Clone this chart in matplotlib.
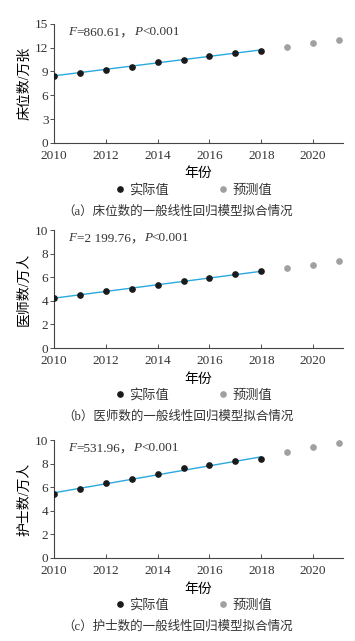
import matplotlib
matplotlib.use("Agg")
import matplotlib.pyplot as plt
import numpy as np

plt.rcParams['font.family'] = ['Liberation Serif', 'Noto Sans CJK SC']
plt.rcParams['text.color'] = '#333333'
plt.rcParams['axes.edgecolor'] = '#444444'

# Data
years_actual = np.arange(2010, 2019)
years_pred = np.array([2019, 2020, 2021])

beds_actual = [8.47, 8.81, 9.23, 9.61, 10.24, 10.41, 10.96, 11.34, 11.63]
beds_pred = [12.09, 12.52, 12.94]

doctors_actual = [4.28, 4.51, 4.82, 5.01, 5.32, 5.66, 5.97, 6.25, 6.51]
doctors_pred = [6.76, 7.07, 7.35]

nurses_actual = [5.41, 5.84, 6.37, 6.66, 7.14, 7.62, 7.85, 8.19, 8.39]
nurses_pred = [8.95, 9.38, 9.72]

panels = [
    dict(actual=beds_actual, pred=beds_pred, ylabel="床位数/万张", ylim=15, yticks=[0, 3, 6, 9, 12, 15],
         F="860.61", caption="（a）床位数的一般线性回归模型拟合情况",
         rect=[0.152, 0.777, 0.814, 0.186]),
    dict(actual=doctors_actual, pred=doctors_pred, ylabel="医师数/万人", ylim=10, yticks=[0, 2, 4, 6, 8, 10],
         F="2 199.76", caption="（b）医师数的一般线性回归模型拟合情况",
         rect=[0.152, 0.457, 0.814, 0.184]),
    dict(actual=nurses_actual, pred=nurses_pred, ylabel="护士数/万人", ylim=10, yticks=[0, 2, 4, 6, 8, 10],
         F="531.96", caption="（c）护士数的一般线性回归模型拟合情况",
         rect=[0.152, 0.1295, 0.814, 0.184]),
]

fig = plt.figure(figsize=(3.55, 6.41), dpi=100)
fs = 9.5

for p in panels:
    ax = fig.add_axes(p["rect"])
    # linear fit on actual values
    k, b = np.polyfit(years_actual, p["actual"], 1)
    ax.plot(years_actual, k * years_actual + b, color="#2aa9e0", lw=1.0, zorder=2)
    ax.plot(years_actual, p["actual"], "o", color="#1a1a1a", ms=3.8, zorder=3, label="实际值")
    ax.plot(years_pred, p["pred"], "o", color="#a0a0a0", ms=3.8, zorder=3, label="预测值")
    ax.set_xlim(2010, 2021.15)
    ax.set_ylim(0, p["ylim"])
    ax.set_yticks(p["yticks"])
    ax.set_xticks([2010, 2012, 2014, 2016, 2018, 2020])
    for s in ["top", "right"]:
        ax.spines[s].set_visible(False)
    ax.spines["left"].set_linewidth(0.8)
    ax.spines["bottom"].set_linewidth(0.8)
    ax.tick_params(axis="x", direction="in", length=3, width=0.6, labelsize=fs, pad=5, colors="#333333")
    ax.tick_params(axis="y", direction="out", length=3, width=0.6, labelsize=fs, pad=1, colors="#333333")
    ax.set_xlabel("年份", fontsize=10, labelpad=4)
    ax.set_ylabel(p["ylabel"], fontsize=10, labelpad=3)

    # F / P annotation with italic letters
    t1 = ax.text(0.05, 0.93, "F", transform=ax.transAxes, fontsize=fs, style="italic",
                 va="center", ha="left")
    t2 = ax.annotate("=" + p["F"] + "，", xy=(1, 0), xycoords=t1, va="bottom", ha="left", fontsize=fs)
    t3 = ax.annotate("P", xy=(1, 0), xycoords=t2, va="bottom", ha="left", fontsize=fs, style="italic")
    ax.annotate("<0.001", xy=(1, 0), xycoords=t3, va="bottom", ha="left", fontsize=fs)

    ax.legend(loc="center", bbox_to_anchor=(0.48, -0.40), ncol=2, frameon=False,
              fontsize=fs, handletextpad=0.2, columnspacing=3.6, handlelength=1.0,
              borderaxespad=0)
    bbox = ax.get_position()
    fig.text(0.5, bbox.y0 - 69 / 641, p["caption"], ha="center", va="center", fontsize=9)

fig.savefig("out.png", dpi=100)
